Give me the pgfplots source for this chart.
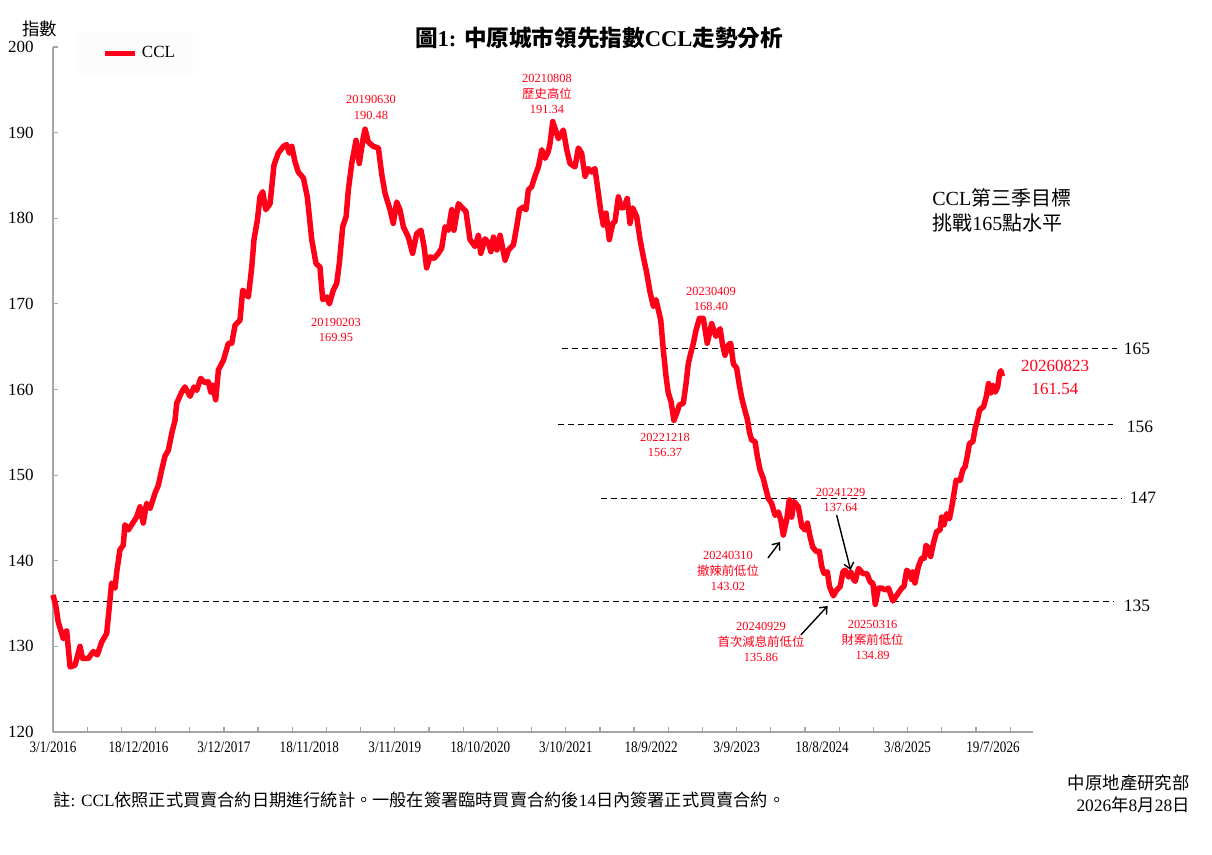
\documentclass[border=0pt]{standalone}
\usepackage{fontspec}
\setmainfont{Liberation Serif}
\newfontfamily\cjk{Noto Sans CJK TC}
\usepackage{graphicx}
\usepackage{pgfplots}
\usepackage{pgfplotstable}
\pgfplotsset{compat=1.18}
\usetikzlibrary{arrows.meta}
\definecolor{cclred}{RGB}{255,0,24}
\definecolor{axgray}{RGB}{165,165,165}
\newcommand{\C}[1]{{\cjk #1}}
\newcommand{\XL}[1]{\scalebox{0.82}[1]{#1}}

\pgfplotstableread{
w v
0 136.0
1.8 134.6
3 132.9
6 130.9
8 131.8
10 127.6
12.9 127.8
15.8 130.0
17.3 128.6
20.7 128.6
23.6 129.4
25.9 129.0
28.5 130.5
31.4 131.5
32.4 133.5
34.3 137.4
36.3 136.8
37.3 138.7
39.2 141.3
41.1 141.8
42.1 144.2
44.1 143.6
48.9 145.1
50.9 146.3
52.8 144.4
54.8 146.7
56.8 146.1
59.7 147.9
61.6 148.8
63.6 150.6
65.5 152.2
67.5 152.9
69.5 154.9
71.4 156.4
72.4 158.4
75.3 159.7
77.2 160.3
80.2 159.2
82.5 160.3
84.1 159.9
86.4 161.3
88.9 160.8
90.9 160.9
92.3 159.7
93.4 160.5
95.2 158.8
96.8 162.3
99.7 163.4
102.6 165.4
104.6 165.4
106.5 167.5
109.4 168.1
111 171.6
114.3 170.8
116.3 174.3
117.6 177.5
119.6 179.8
121.1 182.5
122.7 183.1
124.5 181.0
127 181.7
129.3 186.2
131.8 187.6
134.8 188.4
136.7 188.6
138.3 187.6
139.7 188.4
141.6 186.6
143.5 185.4
146.5 184.7
148.8 182.5
151.4 177.5
153.9 174.7
156.2 174.3
157.8 170.5
160.1 170.8
161.7 170.0
164 171.6
166 172.4
167.5 174.7
169.5 179.0
171.5 180.2
172.8 183.3
174.8 186.4
177.3 189.1
179.2 186.4
181.6 189.5
182.6 190.4
184.5 188.9
187.4 188.4
190.4 188.2
192.3 185.2
194.3 182.9
197.2 181.0
199.1 179.4
201.1 181.9
203 181.0
205 179.0
207.9 177.8
210.4 175.9
212.8 178.2
215.3 178.6
217.1 176.7
218.6 174.2
220.6 175.5
222.9 175.3
225.5 175.9
227.4 176.5
229.4 179.0
231.3 178.6
233.3 181.0
234.6 178.6
237.2 181.7
239.1 181.3
241.6 180.8
244 177.5
246.9 176.7
248.9 178.0
250.3 175.9
252.8 177.6
254.8 177.1
256.2 176.1
257.7 177.8
259.7 176.3
261.6 178.0
264.5 175.1
266.5 176.3
269.4 176.9
271.3 179.0
272.9 181.0
275.2 181.3
276.8 181.0
278.1 183.3
280.1 183.7
282 184.9
284 186.0
286 188.0
287.9 187.0
289.8 187.8
290.8 188.7
292.4 191.3
294.7 189.9
295.7 189.3
298.6 190.3
300.6 188.0
302.5 186.4
305.4 186.0
307.4 188.2
309.3 187.6
311.3 184.9
313.2 185.8
315.2 185.4
317.1 185.8
319.1 182.9
320.4 181.0
322 179.2
323.6 180.6
325.5 177.5
327.5 179.4
328.8 179.6
330.8 182.5
332.7 181.2
334.1 181.3
336 182.3
337.6 179.4
339.2 181.2
341.5 180.2
343.5 177.5
345.4 175.5
347.4 173.6
349.3 171.4
351.3 169.7
352.8 170.5
354.2 169.3
355.6 168.1
357.1 164.6
358.7 161.5
360 159.6
361.6 158.6
363.3 156.4
364.9 157.2
366.5 158.2
368.8 158.4
370.4 160.7
371.7 163.0
373.1 164.2
374.7 165.4
376.2 166.9
378.2 168.3
380.5 168.3
382.8 165.4
385.4 167.7
387.9 166.2
390.3 167.1
391.8 165.2
393.2 164.0
395.1 165.2
396.5 165.4
398.1 163.0
400 162.5
401.6 160.5
403 159.0
404.9 157.5
406.3 156.5
407.5 155.0
408.8 154.1
410.8 153.9
412.1 152.2
413.7 150.6
415.6 149.6
417.2 148.3
418.5 147.3
420.5 146.7
422.5 145.3
424.4 145.7
425.8 144.8
427.3 143.0
429.3 144.8
430.8 147.1
432.2 145.1
433.6 146.9
436.1 146.3
438.1 144.0
440 143.6
441.4 144.4
443 142.8
444.5 141.6
446.5 141.1
448.4 141.1
449.8 139.3
451.2 138.5
453.1 138.7
454.3 137.0
456.6 135.9
458.6 136.6
460.6 137.0
462.2 138.7
463.5 138.9
465.4 138.1
466.8 138.7
468.4 137.8
469.4 137.6
471.3 139.1
473.9 138.5
476.2 138.5
478.2 137.5
479.7 137.4
481.1 134.9
483 136.8
485 136.8
486.9 136.6
488.9 136.8
491.4 135.3
493.8 136.0
496.6 136.8
497.9 137.0
499.5 138.9
501.4 138.5
502.4 137.8
503 138.7
504.3 137.4
506.3 139.3
508.2 140.3
509.8 140.3
510.8 141.8
512.1 141.5
513.5 140.5
515.1 142.0
517 143.4
519 143.6
520 145.1
521.3 144.2
522.9 145.5
524.5 144.9
525.9 146.3
527.2 147.9
528.4 149.4
530.8 149.4
532.3 150.6
533.7 151.0
535.1 152.4
536.2 153.7
538.2 153.9
539.6 155.5
540.9 156.4
542.1 157.6
544.5 158.0
546.1 159.2
547.4 160.7
548.8 159.6
550 160.5
551.3 159.7
552.7 160.3
553.9 161.9
554.6 162.2
555.5 161.54
}\ccldata

\begin{document}
\begin{tikzpicture}
\path[use as bounding box] (-26.5pt,-61.5pt) rectangle (579.5pt,366pt);
\begin{axis}[
  scale only axis, width=490pt, height=342.5pt,
  xmin=0, xmax=573.4, ymin=120, ymax=200,
  axis x line*=bottom, axis y line*=left,
  axis line style={axgray, line width=0.6pt},
  tick align=inside,
  major tick length=2.5pt,
  tick style={axgray, line width=0.6pt},
  xtick={0,20,...,560}, xticklabels={},
  extra x ticks={0,50,...,550},
  extra x tick labels={\XL{3/1/2016},\XL{18/12/2016},\XL{3/12/2017},\XL{18/11/2018},\XL{3/11/2019},\XL{18/10/2020},\XL{3/10/2021},\XL{18/9/2022},\XL{3/9/2023},\XL{18/8/2024},\XL{3/8/2025},\XL{19/7/2026}},
  extra x tick style={major tick length=0pt},
  xticklabel style={font=\fontsize{8}{9}\selectfont, yshift=-1.3pt},
  ytick={120,130,...,200},
  yticklabel style={font=\fontsize{8.5}{10}\selectfont, /pgf/number format/assume math mode=true, xshift=-6.2pt},
  clip=false,
  legend style={at={(0.0245,1.0204)}, anchor=north west, draw=none, fill=black!1,
    font=\fontsize{8.5}{10}\selectfont, inner xsep=7pt, inner ysep=4.5pt},
  legend cell align=left,
  legend image code/.code={\path (0pt,0pt); \draw[#1] (5.5pt,0pt) -- (20.5pt,0pt);},
]
\addplot[forget plot, black, line width=0.6pt, dash pattern=on 3pt off 2pt] coordinates {(297.8,164.75) (622.6,164.75)};
\addplot[forget plot, black, line width=0.6pt, dash pattern=on 3pt off 2pt] coordinates {(295.5,155.9) (620.3,155.9)};
\addplot[forget plot, black, line width=0.6pt, dash pattern=on 3pt off 2pt] coordinates {(320.6,147.3) (625.5,147.3)};
\addplot[forget plot, black, line width=0.6pt, dash pattern=on 3pt off 2pt] coordinates {(0,135.2) (620.3,135.2)};
\addplot[cclred, line width=2.75pt, line join=round] table[x=w,y=v] {\ccldata};
\addlegendentry{CCL}
\end{axis}

% titles and notes
\node[font=\fontsize{11.3}{13}\selectfont\bfseries] at (273pt,347pt) {\C{圖}1: \C{中原城市領先指數}CCL\C{走勢分析}};
\node[font=\fontsize{8.7}{10}\selectfont] at (-6.75pt,351.5pt) {\C{指數}};

% annotations
\begin{scope}[every node/.style={text=cclred, align=center, font=\fontsize{6.2}{7.8}\selectfont, inner sep=0pt}]
\node at (159pt,312.25pt) {20190630\\190.48};
\node at (247pt,319pt) {20210808\\\C{歷史高位}\\191.34};
\node at (141.5pt,201pt) {20190203\\169.95};
\node at (329pt,216.5pt) {20230409\\168.40};
\node at (306pt,143.5pt) {20221218\\156.37};
\node at (337.5pt,80.5pt) {20240310\\\C{撤辣前低位}\\143.02};
\node at (354pt,45pt) {20240929\\\C{首次減息前低位}\\135.86};
\node at (393.8pt,116pt) {20241229\\137.64};
\node at (409.8pt,46pt) {20250316\\\C{財案前低位}\\134.89};
\end{scope}
\node[text=cclred, align=center, font=\fontsize{8.5}{11.7}\selectfont, inner sep=0pt] at (501pt,177.2pt) {20260823\\161.54};
\node[anchor=west, align=left, font=\fontsize{10}{12.5}\selectfont, inner sep=0pt] at (439.5pt,260.75pt) {CCL\C{第三季目標}\\\C{挑戰}165\C{點水平}};

% level labels
\begin{scope}[every node/.style={font=\fontsize{8.7}{10}\selectfont, inner sep=0pt}]
\node at (542pt,191.5pt) {165};
\node at (543.5pt,152.5pt) {156};
\node at (545pt,117pt) {147};
\node at (542pt,63pt) {135};
\end{scope}

% arrows
\begin{scope}[black, line width=0.7pt, -{Straight Barb[length=3pt,width=5pt]}]
\draw (357.5pt,87pt) -- (363.5pt,95pt);
\draw (373.9pt,48.5pt) -- (387.3pt,63pt);
\draw (391.8pt,108.5pt) -- (398.8pt,81pt);
\end{scope}

% footer
\node[anchor=west, font=\fontsize{8.6}{10}\selectfont, inner sep=0pt] at (0pt,-34pt) {\C{註}: CCL\C{依照正式買賣合約日期進行統計。一般在簽署臨時買賣合約後}14\C{日內簽署正式買賣合約。}};
\node[anchor=east, font=\fontsize{8.7}{10}\selectfont, inner sep=0pt] at (568.5pt,-25.5pt) {\C{中原地產研究部}};
\node[anchor=east, font=\fontsize{8.7}{10}\selectfont, inner sep=0pt] at (568.5pt,-36.5pt) {2026\C{年}8\C{月}28\C{日}};
\end{tikzpicture}
\end{document}
